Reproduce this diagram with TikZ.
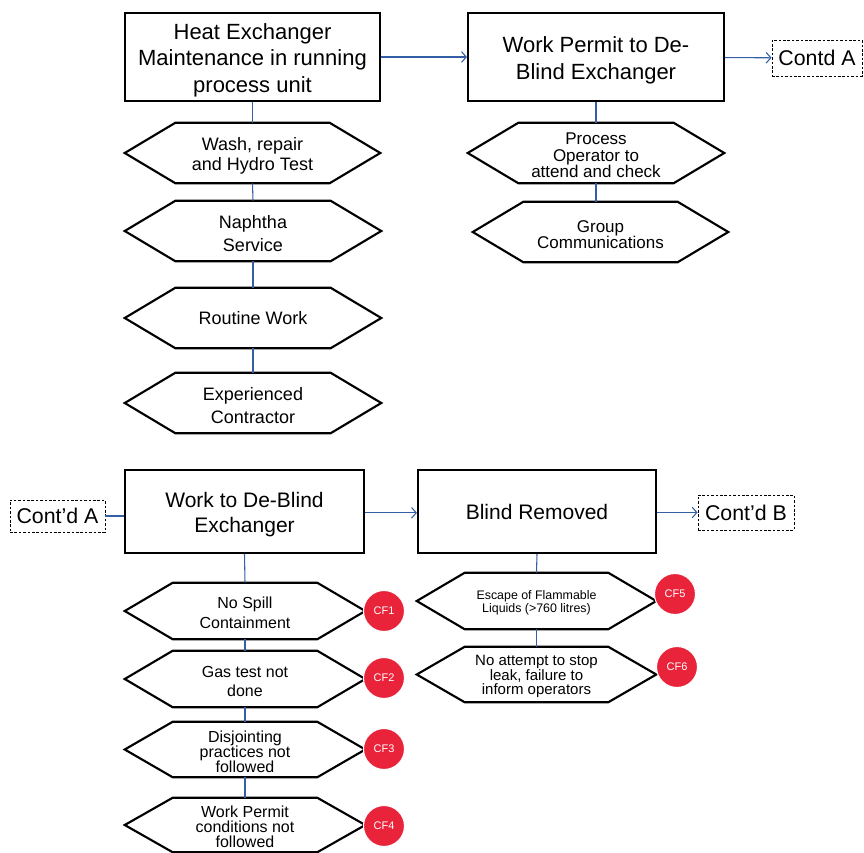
\documentclass[tikz,border=0pt]{standalone}
\usepackage{fontspec}
\setmainfont{Liberation Sans}
\usetikzlibrary{arrows.meta}
\definecolor{linkblue}{RGB}{52,94,165}
\definecolor{cfred}{RGB}{232,35,58}
% tall invisible strut opening the first line of a multi-line label
\newcommand\topstrut{\rule{0pt}{1em}}
% hexagon outline around a rectangular node, #2 = slant depth
\newcommand\hexoutline[2]{%
  \draw[hexline] (#1.west) -- ([xshift=#2]#1.north west) -- ([xshift=-#2]#1.north east)
    -- (#1.east) -- ([xshift=-#2]#1.south east) -- ([xshift=#2]#1.south west) -- cycle;}
\begin{document}
\begin{tikzpicture}[x=0.75pt,y=-0.75pt,
  stepbox/.style={draw, line width=1.6pt, align=center, inner sep=0pt,
    font=\fontsize{16.5}{20}\selectfont},
  hexbox/.style={inner sep=0pt, align=center},
  contbox/.style={draw, dash pattern=on 2pt off 1.3pt, line width=0.7pt, inner sep=0pt,
    font=\fontsize{16}{19}\selectfont},
  cf/.style={circle, fill=cfred, draw=white, line width=0.8pt, minimum size=30.75pt,
    inner sep=0pt, text=white, font=\fontsize{8.25}{10}\selectfont},
  hexline/.style={draw, line width=1.6pt, line join=miter},
  link/.style={draw=linkblue, line width=0.8pt},
  flow/.style={link, -{Straight Barb[length=3.5pt,width=8pt]}}
]
\useasboundingbox (0,0) rectangle (864,853);

% ---------- upper chain ----------
\node[stepbox, minimum width=191.25pt, minimum height=66pt] (b1) at (252.5,57)
  {\topstrut Heat Exchanger\\Maintenance in running\\process unit};
\node[stepbox, minimum width=192pt, minimum height=66pt] (b2) at (596,57)
  {\topstrut Work Permit to De-\\Blind Exchanger};
\node[contbox, minimum width=67.5pt, minimum height=27pt] (ca1) at (817,58) {Contd A};

\node[hexbox, minimum width=191.25pt, minimum height=45pt, font=\fontsize{13.5}{15}\selectfont]
  (h1) at (252.5,153) {\topstrut Wash, repair\\and Hydro Test};
\node[hexbox, minimum width=192pt, minimum height=45pt, font=\fontsize{13.5}{17.5}\selectfont]
  (h2) at (253,231) {\topstrut Naphtha\\Service};
\node[hexbox, minimum width=192pt, minimum height=45pt, font=\fontsize{13.5}{15}\selectfont]
  (h3) at (253,318) {Routine Work};
\node[hexbox, minimum width=192pt, minimum height=45pt, font=\fontsize{13.5}{17.5}\selectfont]
  (h4) at (253,403) {\topstrut Experienced\\Contractor};

\node[hexbox, minimum width=192pt, minimum height=45pt, font=\fontsize{12.75}{12.4}\selectfont]
  (h5) at (596,153) {\topstrut Process\\Operator to\\attend and check};
\node[hexbox, minimum width=191.25pt, minimum height=45pt, font=\fontsize{12.75}{12}\selectfont]
  (h6) at (600.5,232) {\topstrut Group\\Communications};

% ---------- lower chain ----------
\node[contbox, minimum width=71.25pt, minimum height=24pt] (ca2) at (57.5,516) {Cont'd A};
\node[stepbox, minimum width=179.25pt, minimum height=62.25pt, font=\fontsize{15.75}{19}\selectfont]
  (b3) at (244.5,511.5) {\topstrut Work to De-Blind\\Exchanger};
\node[stepbox, minimum width=178.5pt, minimum height=62.25pt, font=\fontsize{15.75}{19}\selectfont]
  (b4) at (537,511.5) {Blind Removed};
\node[contbox, minimum width=72pt, minimum height=26.25pt] (cb) at (746,512.5) {Cont'd B};

\node[hexbox, minimum width=180pt, minimum height=42pt, font=\fontsize{12}{15}\selectfont]
  (h7) at (245,611) {\topstrut No Spill\\Containment};
\node[hexbox, minimum width=180pt, minimum height=42pt, font=\fontsize{12}{14.25}\selectfont]
  (h8) at (245,679) {\topstrut Gas test not\\done};
\node[hexbox, minimum width=180pt, minimum height=41.25pt, font=\fontsize{12}{11.25}\selectfont]
  (h9) at (245,749.5) {\topstrut Disjointing\\practices not\\followed};
\node[hexbox, minimum width=180pt, minimum height=40.5pt, font=\fontsize{12}{11.25}\selectfont]
  (h10) at (245,825) {\topstrut Work Permit\\conditions not\\followed};

\node[hexbox, minimum width=179.25pt, minimum height=42pt, font=\fontsize{9.3}{9.75}\selectfont]
  (h11) at (536.5,601) {\topstrut Escape of Flammable\\Liquids (>760 litres)};
\node[hexbox, minimum width=179.25pt, minimum height=41.25pt, font=\fontsize{11.25}{10.9}\selectfont]
  (h12) at (536.5,674.5) {\topstrut No attempt to stop\\leak, failure to\\inform operators};

% hexagon outlines
\foreach \n in {h1,h2,h3,h4,h5,h6} {\hexoutline{\n}{38pt}}
\foreach \n in {h7,h8,h9,h10,h11,h12} {\hexoutline{\n}{36pt}}

% ---------- connectors ----------
\draw[flow] (b1) -- (b2);
\draw[flow] (b2) -- (ca1);
\draw[link] (b1.south) -- (h1.north);
\draw[link] (h1.south) -- (h2.north);
\draw[link] (h2.south) -- (h3.north);
\draw[link] (h3.south) -- (h4.north);
\draw[link] (b2.south) -- (h5.north);
\draw[link] (h5.south) -- (h5.south |- h6.north);

\draw[link] (ca2.east) -- (ca2.east -| b3.west);
\draw[flow] ([yshift=-1pt]b3.east) -- ([yshift=-1pt]b3.east -| b4.west);
\draw[flow] (b4.east |- cb.west) -- (cb.west);
\draw[link] (b3.south) -- (h7.north);
\draw[link] (h7.south) -- (h8.north);
\draw[link] (h8.south) -- (h9.north);
\draw[link] (h9.south) -- (h10.north);
\draw[link] (b4.south) -- (h11.north);
\draw[link] (h11.south) -- (h12.north);

% ---------- contributing factor markers ----------
\node[cf] (cf1) at (384,611) {CF1};
\node[cf] (cf2) at (384,678) {CF2};
\node[cf] (cf3) at (384,749) {CF3};
\node[cf] (cf4) at (384,826) {CF4};
\node[cf] (cf5) at (675,594) {CF5};
\node[cf] (cf6) at (677,667) {CF6};
\end{tikzpicture}
\end{document}
